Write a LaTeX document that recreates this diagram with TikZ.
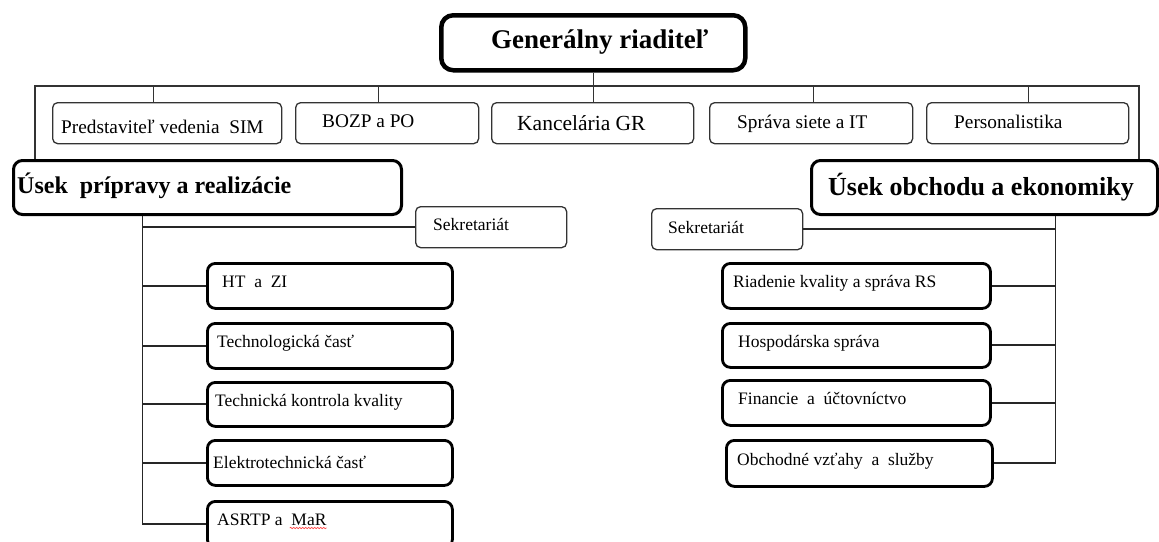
\documentclass[tikz,border=0pt]{standalone}
\usepackage{fontspec}
\setmainfont{Liberation Serif}
\usetikzlibrary{decorations.pathmorphing}
\begin{document}
\begin{tikzpicture}[x=1pt,y=-1pt,
  thinbox/.style={draw=black!80, rounded corners=5pt, line width=1.3pt, anchor=north west, inner sep=0pt},
  unitbox/.style={draw=black, rounded corners=8pt, line width=2.8pt, anchor=north west, inner sep=0pt},
  usekbox/.style={draw=black, rounded corners=9pt, line width=3pt, anchor=north west, inner sep=0pt},
  lbl/.style={anchor=base west, inner sep=0pt, font=\fontsize{17.5}{20}\selectfont},
  toplbl/.style={lbl, font=\fontsize{19.3}{22}\selectfont},
  thinline/.style={draw=black!80, line width=1.3pt},
  conn/.style={draw=black!85, line width=1.9pt},
]
\useasboundingbox (0,0) rectangle (1159,541);
\clip (0,0) rectangle (1159,541);

% General director
\node[draw=black, rounded corners=12pt, line width=4.5pt, anchor=north west, inner sep=0pt,
      minimum width=304pt, minimum height=55pt] (gr) at (439,13) {};
\node[anchor=base west, inner sep=0pt, font=\bfseries\fontsize{27}{30}\selectfont] (grt) at (491,48) {Generálny riaditeľ};

% top row
\node[thinbox, minimum width=229pt, minimum height=41pt] (p1) at (52,102) {};
\node[thinbox, minimum width=183pt, minimum height=41pt] (p2) at (295,102) {};
\node[thinbox, minimum width=202pt, minimum height=41pt] (p3) at (491,102) {};
\node[thinbox, minimum width=203pt, minimum height=41pt] (p4) at (709,102) {};
\node[thinbox, minimum width=202pt, minimum height=41pt] (p5) at (926,102) {};
\node[toplbl] (p1t) at (61,133) {Predstaviteľ vedenia\ \ SIM};
\node[toplbl] (p2t) at (322,127) {BOZP a PO};
\node[lbl, font=\fontsize{21.5}{24}\selectfont] (p3t) at (517,130) {Kancelária GR};
\node[toplbl] (p4t) at (737,128) {Správa siete a IT};
\node[toplbl] (p5t) at (954,128) {Personalistika};

% divisions
\node[usekbox, minimum width=388pt, minimum height=54pt] (uL) at (12,159) {};
\node[usekbox, minimum width=346pt, minimum height=54pt] (uR) at (810,159) {};
\node[anchor=base west, inner sep=0pt, font=\bfseries\fontsize{24}{28}\selectfont] (uLt) at (17,193) {Úsek\ \ prípravy a realizácie};
\node[anchor=base west, inner sep=0pt, font=\bfseries\fontsize{26}{30}\selectfont] (uRt) at (828,195) {Úsek obchodu a ekonomiky};

% secretariats
\node[thinbox, minimum width=151pt, minimum height=41pt] (sL) at (415,206) {};
\node[thinbox, minimum width=151pt, minimum height=41pt] (sR) at (651,208) {};
\node[lbl] (sLt) at (433,230) {Sekretariát};
\node[lbl] (sRt) at (668,233) {Sekretariát};

% left units
\node[unitbox, minimum width=245pt, minimum height=45pt] (l1) at (206,262) {};
\node[unitbox, minimum width=245pt, minimum height=45pt] (l2) at (206,322) {};
\node[unitbox, minimum width=245pt, minimum height=44pt] (l3) at (206,381) {};
\node[unitbox, minimum width=245pt, minimum height=45pt] (l4) at (206,439) {};
\node[unitbox, minimum width=245pt, minimum height=46pt] (l5) at (206,500) {};
\node[lbl] (l1t) at (222,287) {HT\ \ a\ \ ZI};
\node[lbl] (l2t) at (217,347) {Technologická časť};
\node[lbl] (l3t) at (215,406) {Technická kontrola kvality};
\node[lbl] (l4t) at (213,468) {Elektrotechnická časť};
\node[lbl] (l5t) at (217,525) {ASRTP a\ \ MaR};

% right units
\node[unitbox, minimum width=268pt, minimum height=45pt] (r1) at (721,262) {};
\node[unitbox, minimum width=268pt, minimum height=44pt] (r2) at (721,322) {};
\node[unitbox, minimum width=268pt, minimum height=45pt] (r3) at (721,379) {};
\node[unitbox, minimum width=266pt, minimum height=46pt] (r4) at (725,439) {};
\node[lbl] (r1t) at (733,287) {Riadenie kvality a správa RS};
\node[lbl] (r2t) at (738,347) {Hospodárska správa};
\node[lbl] (r3t) at (738,404) {Financie\ \ a\ \ účtovníctvo};
\node[lbl] (r4t) at (737,465) {Obchodné vzťahy\ \ a\ \ služby};

% bus
\coordinate (busL) at (35,86);
\coordinate (busR) at (1139,86);
\draw[thinline] (uL.north -| busL) -- (busL) -- (busR) -- (uR.north -| busR);
\draw[thinline] (gr.south) -- (p3.north -| gr.south);
\draw[thinline] ([xshift=-13.5pt]p1.north) -- ([xshift=-13.5pt]p1.north |- busL);
\draw[thinline] ([xshift=-8.5pt]p2.north) -- ([xshift=-8.5pt]p2.north |- busL);
\draw[thinline] ([xshift=2.5pt]p4.north) -- ([xshift=2.5pt]p4.north |- busL);
\draw[thinline] ([xshift=1pt]p5.north) -- ([xshift=1pt]p5.north |- busL);

% left trunk
\path (uL.south) ++(-65,0) coordinate (tL);
\draw[conn] (tL) |- (l5.west);
\draw[conn] (sL.west) -- (sL.west -| tL);
\draw[conn] (l1.west) -- (l1.west -| tL);
\draw[conn] (l2.west) -- (l2.west -| tL);
\draw[conn] (l3.west) -- (l3.west -| tL);
\draw[conn] (l4.west) -- (l4.west -| tL);

% right trunk
\path (uR.south) ++(71,0) coordinate (tR);
\draw[conn] (tR) |- (r4.east);
\draw[conn] (sR.east) -- (sR.east -| tR);
\draw[conn] (r1.east) -- (r1.east -| tR);
\draw[conn] (r2.east) -- (r2.east -| tR);
\draw[conn] (r3.east) -- (r3.east -| tR);

% spell-check squiggle under MaR
\draw[red!75, line width=0.6pt, decorate, decoration={snake, amplitude=0.7pt, segment length=3pt}]
  ([yshift=-3pt,xshift=-37pt]l5t.base east) -- ([yshift=-3pt]l5t.base east);
\end{tikzpicture}
\end{document}
